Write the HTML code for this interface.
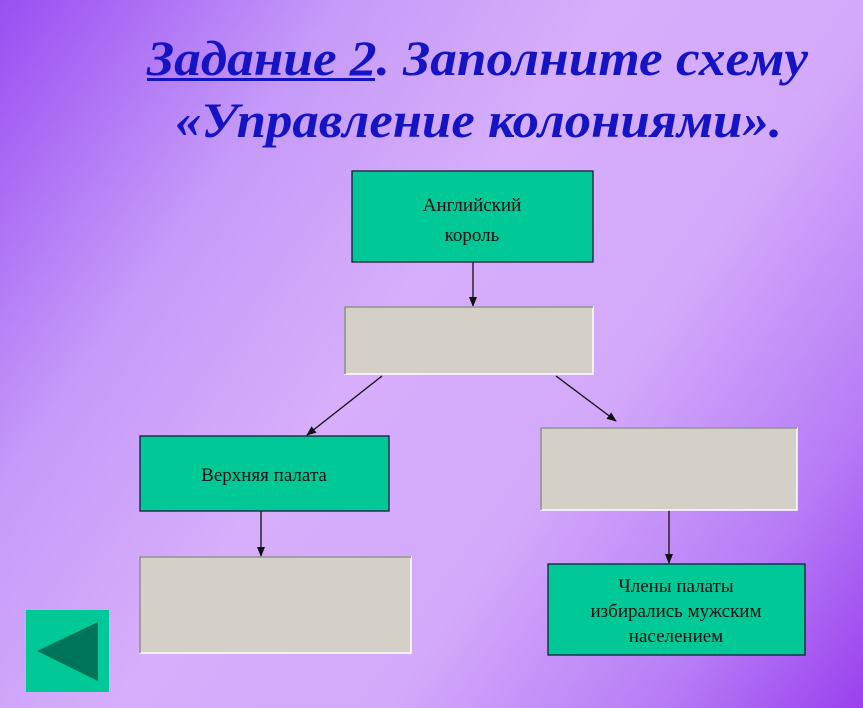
<!DOCTYPE html>
<html><head><meta charset="utf-8"><style>
html,body{margin:0;padding:0}
body{width:863px;height:708px;overflow:hidden;background:linear-gradient(125deg,#9a4ef2 0%,#c59af9 25%,#d6aefb 45%,#d3a9fb 65%,#b77cf6 85%,#9a40ee 100%)}
svg{position:absolute;left:0;top:0}
</style></head><body>
<svg width="863" height="708" viewBox="0 0 863 708" xmlns="http://www.w3.org/2000/svg">
<defs><marker id="a" markerWidth="10" markerHeight="10" refX="9" refY="5" orient="auto" markerUnits="userSpaceOnUse"><path d="M0,1 L10,5 L0,9 z" fill="#111"/></marker></defs>
<g font-family="Liberation Serif, serif" font-style="italic" font-weight="bold" fill="#1414c4">
<text x="147" y="75" font-size="50" textLength="661" lengthAdjust="spacingAndGlyphs">Задание 2. Заполните схему</text>
<text x="175" y="137" font-size="50" textLength="607" lengthAdjust="spacingAndGlyphs">«Управление колониями».</text>
</g>
<rect x="147" y="78" width="228" height="3" fill="#1414c4"/>
<g stroke="#111" stroke-width="1.3">
<line x1="473" y1="262" x2="473" y2="306" marker-end="url(#a)"/>
<line x1="382" y1="376" x2="307" y2="435" marker-end="url(#a)"/>
<line x1="556" y1="376" x2="616" y2="421" marker-end="url(#a)"/>
<line x1="261" y1="511" x2="261" y2="556" marker-end="url(#a)"/>
<line x1="669" y1="510" x2="669" y2="563" marker-end="url(#a)"/>
</g>
<g fill="#00c896" stroke="#1a1a3a" stroke-width="1.3">
<rect x="352" y="171" width="241" height="91"/>
<rect x="140" y="436" width="249" height="75"/>
<rect x="548" y="564" width="257" height="91"/>
</g>
<g fill="#d4d0c8">
<rect x="345" y="307" width="248" height="67" stroke="#fff" stroke-width="1.5"/>
<rect x="541" y="428" width="256" height="82" stroke="#fff" stroke-width="1.5"/>
<rect x="140" y="557" width="271" height="96" stroke="#fff" stroke-width="1.5"/>
</g>
<path d="M345,374 V307 H593" fill="none" stroke="#777" stroke-width="1.3"/>
<path d="M541,510 V428 H797" fill="none" stroke="#777" stroke-width="1.3"/>
<path d="M140,653 V557 H411" fill="none" stroke="#777" stroke-width="1.3"/>
<g font-family="Liberation Serif, serif" font-size="19" fill="#111" text-anchor="middle">
<text x="472" y="211">Английский</text>
<text x="472" y="241">король</text>
<text x="264" y="481">Верхняя палата</text>
<text x="676" y="592">Члены палаты</text>
<text x="676" y="617">избирались мужским</text>
<text x="676" y="642">населением</text>
</g>
<rect x="26" y="610" width="83" height="82" fill="#00c896"/>
<path d="M37,651 L98,622 L98,681 z" fill="#00745a"/>
</svg>
</body></html>
